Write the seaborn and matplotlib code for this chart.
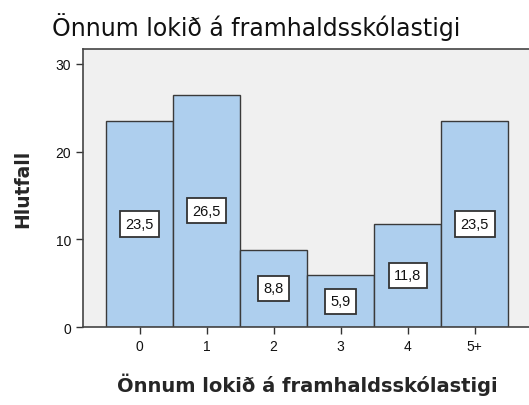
import matplotlib
matplotlib.use("Agg")
import matplotlib.pyplot as plt
import seaborn as sns
import pandas as pd

# gögn
flokkar = ["0", "1", "2", "3", "4", "5+"]
hlutfall = [23.5, 26.5, 8.8, 5.9, 11.8, 23.5]
merki = ["23,5", "26,5", "8,8", "5,9", "11,8", "23,5"]
y_ticks = [0, 10, 20, 30]

df = pd.DataFrame({"flokkur": flokkar, "hlutfall": hlutfall})

sns.set_theme(style="ticks")
plt.rcParams["font.family"] = ["Liberation Sans", "DejaVu Sans"]

fig = plt.figure(figsize=(5.29, 4.06), dpi=100)
ax = fig.add_axes([0.157, 0.192, 0.847, 0.685])
ax.set_facecolor("#F0F0F0")

sns.barplot(data=df, x="flokkur", y="hlutfall", color="#AECFEE", saturation=1,
            width=1.0, edgecolor="#3a3a3a", linewidth=1.0, ax=ax)

# merkimiðar í hvítum kössum
for i, (v, txt) in enumerate(zip(hlutfall, merki)):
    ax.text(i, v / 2, txt, ha="center", va="center", fontsize=10.5, color="#111111",
            bbox=dict(boxstyle="square,pad=0.38", fc="white", ec="#333333", lw=1.3))

ax.set_xlim(-0.843, 5.84)
ax.set_ylim(0, 31.7)
ax.set_yticks(y_ticks)
ax.tick_params(axis="both", labelsize=10, colors="#333333", length=5, width=1, direction="out")
ax.tick_params(axis="both", labelcolor="#111111")
for s in ax.spines.values():
    s.set_color("#444444")
    s.set_linewidth(1.2)

ax.set_xlabel("Önnum lokið á framhaldsskólastigi", fontsize=14, fontweight="bold",
              family="DejaVu Sans", labelpad=14)
ax.set_ylabel("Hlutfall", fontsize=13.5, fontweight="bold", family="DejaVu Sans", labelpad=17)
fig.text(0.098, 0.911, "Önnum lokið á framhaldsskólastigi", fontsize=17,
         family="DejaVu Sans", ha="left", va="baseline", color="#111111")

plt.savefig("out.png", dpi=100)
